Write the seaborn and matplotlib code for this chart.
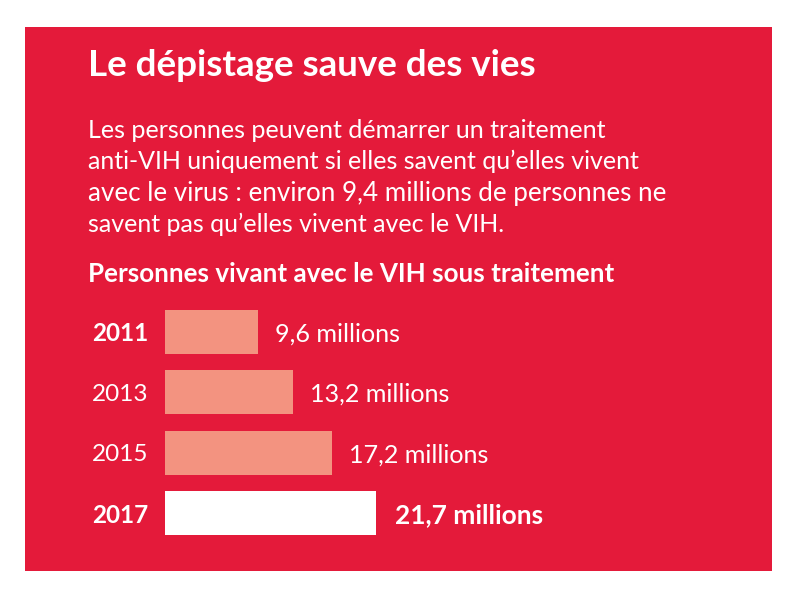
#!/usr/bin/env python3
# -*- coding: utf-8 -*-
import pandas as pd
import matplotlib.pyplot as plt
import seaborn as sns

# %% data
years = ['2011', '2013', '2015', '2017']
values = [9.6, 13.2, 17.2, 21.7]
labels = ['9,6 millions', '13,2 millions', '17,2 millions', '21,7 millions']
bold_years = ['2011', '2017']

title = 'Le dépistage sauve des vies'
body = ['Les personnes peuvent démarrer un traitement',
        'anti-VIH uniquement si elles savent qu’elles vivent',
        'avec le virus : environ 9,4 millions de personnes ne',
        'savent pas qu’elles vivent avec le VIH.']
subtitle = 'Personnes vivant avec le VIH sous traitement'

RED = '#E41A3A'
SALMON = '#F39380'

sns.set_theme(style='white')
plt.rcParams['font.family'] = ['Lato', 'DejaVu Sans']

df = pd.DataFrame({'year': years, 'value': values})

# %% figure
fig = plt.figure(figsize=(8, 6), dpi=100, facecolor='white')

# red panel
panel = fig.add_axes([25/800, 1-571/600, 747/800, (571-27)/600], facecolor=RED)
panel.set_xticks([])
panel.set_yticks([])
for s in panel.spines.values():
    s.set_visible(False)

fig.text(88/800, 1-65/600, title, color='white', fontsize=26.5, fontweight='bold', va='center')
body_sizes = [18.1, 18.0, 18.75, 18.0]
for i, line in enumerate(body):
    fig.text(88/800, 1-(130+i*31.5)/600, line, color='white', fontsize=body_sizes[i], va='center')
fig.text(88/800, 1-274/600, subtitle, color='white', fontsize=18.7, fontweight='bold', va='center')

# bars: 165 px is zero, 21.7 ends at 376 px
ax = fig.add_axes([165/800, 1-543.5/600, 500/800, 242/600], facecolor='none')
sns.barplot(data=df, y='year', x='value', hue='year', order=years, hue_order=years,
            palette=[SALMON, SALMON, SALMON, 'white'], legend=False, width=0.72,
            saturation=1, linewidth=0, ax=ax)
ax.set_xlim(0, 21.7*500/211)
ax.set_xlabel('')
ax.set_ylabel('')
ax.set_xticks([])
ax.tick_params(axis='y', length=0, pad=12, labelcolor='white', labelsize=17.5)
for lab in ax.get_yticklabels():
    lab.set_fontweight('bold' if lab.get_text() in bold_years else 'normal')
for s in ax.spines.values():
    s.set_visible(False)

for i, (v, lab) in enumerate(zip(values, labels)):
    is_last = years[i] == '2017'
    ax.annotate(lab, (v, i), xytext=(19 if is_last else 17, -2), textcoords='offset pixels',
                color='white', fontsize=18.9 if is_last else 18.1, va='center',
                fontweight='bold' if is_last else 'normal')

fig.savefig('out.png', dpi=100, facecolor='white')
